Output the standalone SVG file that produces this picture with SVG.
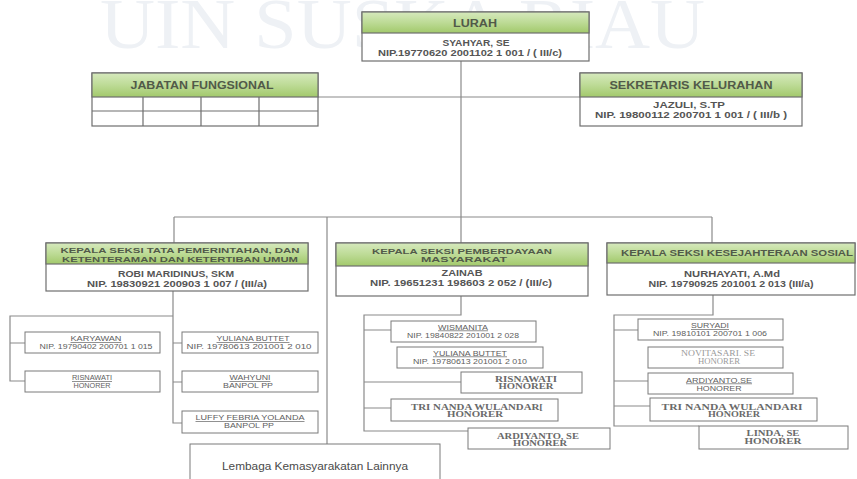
<svg xmlns="http://www.w3.org/2000/svg" width="857" height="479" viewBox="0 0 857 479">
<style>
.bg{fill:#ffffff}
.wm{font-family:"Liberation Serif","Times New Roman",serif;font-size:72px;fill:#eef1f5}
.box{fill:#ffffff;stroke:#6e6e6e;stroke-width:1.2}
.hdr{fill:url(#g);stroke:#6e6e6e;stroke-width:1.2}
.sbox{fill:#ffffff;stroke:#7a7a7a;stroke-width:1}
.ln{fill:none;stroke:#8a8a8a;stroke-width:1.2}
.ht{font-family:"Liberation Sans",Arial,sans-serif;font-weight:bold;fill:#515a49;text-anchor:middle}
.bt{font-family:"Liberation Sans",Arial,sans-serif;font-weight:bold;fill:#555555;text-anchor:middle;font-size:8.5px}
.st{font-family:"Liberation Sans",Arial,sans-serif;fill:#5e5e5e;text-anchor:middle;font-size:6.8px}
.u{text-decoration:underline}
.sf{font-family:"Liberation Serif","Times New Roman",serif;font-weight:bold;fill:#6a6a6a;text-anchor:middle;font-size:7.2px}
.sfl{font-family:"Liberation Serif","Times New Roman",serif;fill:#9a9a9a;text-anchor:middle;font-size:7.2px}
.lt{font-family:"Liberation Sans",Arial,sans-serif;fill:#4a4a4a;text-anchor:middle;font-size:10.5px}
</style>
<defs>
<linearGradient id="g" x1="0" y1="0" x2="0" y2="1">
<stop offset="0" stop-color="#d6e9bd"/>
<stop offset="0.5" stop-color="#bddb96"/>
<stop offset="1" stop-color="#a2c96b"/>
</linearGradient>
</defs>
<rect class="bg" x="0" y="0" width="857" height="479"/>
<text class="wm" x="100" y="48" textLength="605" lengthAdjust="spacingAndGlyphs">UIN SUSKA RIAU</text>

<g id="connectors">
<path class="ln" d="M461,61 V243"/>
<path class="ln" d="M318,97 H580"/>
<path class="ln" d="M174,217 H712"/>
<path class="ln" d="M174,217 V243"/>
<path class="ln" d="M712,217 V243"/>
<path class="ln" d="M327,217 V444"/>
<path class="ln" d="M173,291 V423 H182"/>
<path class="ln" d="M173,343 H182 M173,382 H182"/>
<path class="ln" d="M173,316 H10 V381 H25 M10,343 H25"/>
<path class="ln" d="M461,296 V315 H364 V431 H468"/>
<path class="ln" d="M364,330 H391 M364,382 H461 M364,408 H391"/>
<path class="ln" d="M713,295 V315 H614 V426 H699"/>
<path class="ln" d="M614,330 H638 M614,381 H648 M614,406 H650"/>
</g>

<g id="lurah">
<rect class="box" x="362" y="12" width="227" height="49"/>
<rect class="hdr" x="362" y="12" width="227" height="21"/>
<text class="ht" x="475" y="26.5" font-size="10.5" textLength="44" lengthAdjust="spacingAndGlyphs">LURAH</text>
<text class="bt" x="476" y="46" textLength="67" lengthAdjust="spacingAndGlyphs">SYAHYAR, SE</text>
<text class="bt" x="470" y="55.5" textLength="184" lengthAdjust="spacingAndGlyphs">NIP.19770620  2001102 1 001 / ( III/c)</text>
</g>

<g id="jabatan-fungsional">
<rect class="box" x="92" y="73" width="226" height="53"/>
<rect class="hdr" x="92" y="73" width="226" height="24"/>
<text class="ht" x="202" y="89" font-size="10" textLength="143" lengthAdjust="spacingAndGlyphs">JABATAN FUNGSIONAL</text>
<path class="ln" d="M92,111 H318 M143,97 V126 M201,97 V126 M259,97 V126" style="stroke:#6e6e6e"/>
</g>

<g id="sekretaris">
<rect class="box" x="580" y="73" width="222" height="53"/>
<rect class="hdr" x="580" y="73" width="222" height="24"/>
<text class="ht" x="691" y="89" font-size="10" textLength="163" lengthAdjust="spacingAndGlyphs">SEKRETARIS KELURAHAN</text>
<text class="bt" x="689" y="108" textLength="72" lengthAdjust="spacingAndGlyphs">JAZULI, S.TP</text>
<text class="bt" x="691" y="118" textLength="192" lengthAdjust="spacingAndGlyphs">NIP. 19800112 200701 1 001 / ( III/b )</text>
</g>

<g id="kasi-pemerintahan">
<rect class="box" x="46" y="243" width="262" height="48"/>
<rect class="hdr" x="46" y="243" width="262" height="21"/>
<text class="ht" x="180" y="253" font-size="8" textLength="239" lengthAdjust="spacingAndGlyphs">KEPALA SEKSI TATA PEMERINTAHAN, DAN</text>
<text class="ht" x="180" y="261.5" font-size="8" textLength="236" lengthAdjust="spacingAndGlyphs">KETENTERAMAN DAN KETERTIBAN UMUM</text>
<text class="bt" x="176" y="277" textLength="116" lengthAdjust="spacingAndGlyphs">ROBI MARIDINUS, SKM</text>
<text class="bt" x="177" y="287" textLength="180" lengthAdjust="spacingAndGlyphs">NIP. 19830921 200903 1 007 / (III/a)</text>
</g>

<g id="kasi-pemberdayaan">
<rect class="box" x="336" y="243" width="252" height="53"/>
<rect class="hdr" x="336" y="243" width="252" height="23"/>
<text class="ht" x="462" y="253.5" font-size="8" textLength="180" lengthAdjust="spacingAndGlyphs">KEPALA SEKSI PEMBERDAYAAN</text>
<text class="ht" x="464" y="262" font-size="8" textLength="86" lengthAdjust="spacingAndGlyphs">MASYARAKAT</text>
<text class="bt" x="462" y="276" textLength="41" lengthAdjust="spacingAndGlyphs">ZAINAB</text>
<text class="bt" x="461" y="286" textLength="182" lengthAdjust="spacingAndGlyphs">NIP. 19651231 198603 2 052 / (III/c)</text>
</g>

<g id="kasi-kesejahteraan">
<rect class="box" x="607" y="243" width="248" height="52"/>
<rect class="hdr" x="607" y="243" width="248" height="20"/>
<text class="ht" x="737" y="256" font-size="8.5" textLength="232" lengthAdjust="spacingAndGlyphs">KEPALA SEKSI KESEJAHTERAAN SOSIAL</text>
<text class="bt" x="732" y="277" textLength="96" lengthAdjust="spacingAndGlyphs">NURHAYATI, A.Md</text>
<text class="bt" x="731" y="287" textLength="165" lengthAdjust="spacingAndGlyphs">NIP. 19790925 201001 2 013 (III/a)</text>
</g>

<g id="karyawan">
<rect class="sbox" x="25" y="332" width="135" height="21"/>
<text class="st u" x="96" y="341" textLength="51" lengthAdjust="spacingAndGlyphs">KARYAWAN</text>
<text class="st" x="96" y="349" textLength="113" lengthAdjust="spacingAndGlyphs">NIP. 19790402 200701 1 015</text>
</g>
<g id="risnawati-1">
<rect class="sbox" x="25" y="371" width="135" height="21"/>
<text class="st u" x="92" y="380" textLength="40" lengthAdjust="spacingAndGlyphs">RISNAWATI</text>
<text class="st" x="92" y="388" textLength="37" lengthAdjust="spacingAndGlyphs">HONORER</text>
</g>
<g id="yuliana-1">
<rect class="sbox" x="182" y="332" width="136" height="21"/>
<text class="st u" x="253" y="341" textLength="73" lengthAdjust="spacingAndGlyphs">YULIANA BUTTET</text>
<text class="st" x="249" y="349" textLength="125" lengthAdjust="spacingAndGlyphs">NIP. 19780613 201001 2 010</text>
</g>
<g id="wahyuni">
<rect class="sbox" x="182" y="371" width="136" height="21"/>
<text class="st u" x="250" y="380" textLength="41" lengthAdjust="spacingAndGlyphs">WAHYUNI</text>
<text class="st" x="248" y="388" textLength="50" lengthAdjust="spacingAndGlyphs">BANPOL PP</text>
</g>
<g id="luffy">
<rect class="sbox" x="182" y="411" width="136" height="22"/>
<text class="st u" x="250" y="420" textLength="109" lengthAdjust="spacingAndGlyphs">LUFFY FEBRIA YOLANDA</text>
<text class="st" x="249" y="428" textLength="50" lengthAdjust="spacingAndGlyphs">BANPOL PP</text>
</g>
<g id="lembaga">
<rect class="sbox" x="190" y="444" width="250" height="45"/>
<text class="lt" x="315" y="470" textLength="186" lengthAdjust="spacingAndGlyphs">Lembaga Kemasyarakatan Lainnya</text>
</g>

<g id="wismanita">
<rect class="sbox" x="391" y="321" width="145" height="21"/>
<text class="st u" x="463" y="329.5" textLength="50" lengthAdjust="spacingAndGlyphs">WISMANITA</text>
<text class="st" x="463" y="337.5" textLength="112" lengthAdjust="spacingAndGlyphs">NIP. 19840822 201001 2 028</text>
</g>
<g id="yuliana-2">
<rect class="sbox" x="397" y="347" width="146" height="21"/>
<text class="st u" x="470" y="355.5" textLength="74" lengthAdjust="spacingAndGlyphs">YULIANA BUTTET</text>
<text class="st" x="470" y="363.5" textLength="114" lengthAdjust="spacingAndGlyphs">NIP. 19780613 201001 2 010</text>
</g>
<g id="risnawati-2">
<rect class="sbox" x="461" y="372" width="121" height="21"/>
<text class="sf" x="526" y="381.5" textLength="62" lengthAdjust="spacingAndGlyphs">RISNAWATI</text>
<text class="sf" x="526" y="389" textLength="55" lengthAdjust="spacingAndGlyphs">HONORER</text>
</g>
<g id="tri-nanda-1">
<rect class="sbox" x="391" y="399" width="167" height="22"/>
<text class="sf" x="477" y="409.5" textLength="132" lengthAdjust="spacingAndGlyphs">TRI NANDA WULANDAR[</text>
<text class="sf" x="475" y="417" textLength="56" lengthAdjust="spacingAndGlyphs">HONORER</text>
</g>
<g id="ardiyanto-1">
<rect class="sbox" x="468" y="428" width="142" height="21"/>
<text class="sf" x="538" y="438.5" textLength="82" lengthAdjust="spacingAndGlyphs">ARDIYANTO, SE</text>
<text class="sf" x="540" y="446" textLength="54" lengthAdjust="spacingAndGlyphs">HONORER</text>
</g>

<g id="suryadi">
<rect class="sbox" x="638" y="319" width="145" height="21"/>
<text class="st u" x="710" y="328" textLength="38" lengthAdjust="spacingAndGlyphs">SURYADI</text>
<text class="st" x="710" y="336" textLength="114" lengthAdjust="spacingAndGlyphs">NIP. 19810101 200701 1 006</text>
</g>
<g id="novitasari">
<rect class="sbox" x="648" y="347" width="135" height="21"/>
<text class="sfl" x="718" y="356" textLength="74" lengthAdjust="spacingAndGlyphs">NOVITASARI. SE</text>
<text class="sfl" x="719" y="364" textLength="42" lengthAdjust="spacingAndGlyphs">HONORER</text>
</g>
<g id="ardiyanto-2">
<rect class="sbox" x="648" y="373" width="145" height="21"/>
<text class="st u" x="719" y="382.5" textLength="66" lengthAdjust="spacingAndGlyphs">ARDIYANTO.SE</text>
<text class="st" x="719" y="390.5" textLength="45" lengthAdjust="spacingAndGlyphs">HONORER</text>
</g>
<g id="tri-nanda-2">
<rect class="sbox" x="650" y="398" width="167" height="23"/>
<text class="sf" x="732" y="409.5" textLength="141" lengthAdjust="spacingAndGlyphs">TRI NANDA WULANDARI</text>
<text class="sf" x="734" y="417" textLength="52" lengthAdjust="spacingAndGlyphs">HONORER</text>
</g>
<g id="linda">
<rect class="sbox" x="699" y="426" width="149" height="23"/>
<text class="sf" x="773" y="436" textLength="53" lengthAdjust="spacingAndGlyphs">LINDA, SE</text>
<text class="sf" x="773" y="443.5" textLength="57" lengthAdjust="spacingAndGlyphs">HONORER</text>
</g>
</svg>
